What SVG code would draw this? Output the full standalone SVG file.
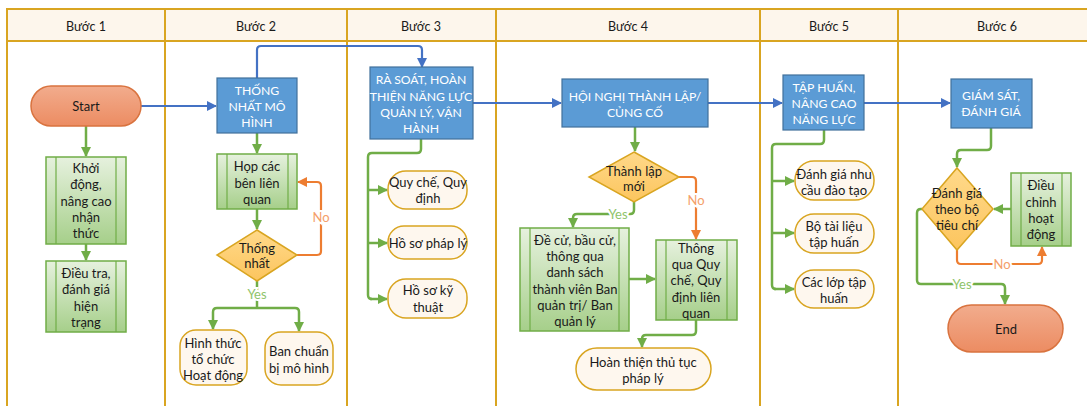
<svg xmlns="http://www.w3.org/2000/svg" width="1087" height="406" viewBox="0 0 1087 406">
<defs>
<linearGradient id="gProc" x1="0" y1="0" x2="0" y2="1"><stop offset="0" stop-color="#e6f1de"/><stop offset="1" stop-color="#a6cf8a"/></linearGradient>
<linearGradient id="gTerm" x1="0" y1="0" x2="0" y2="1"><stop offset="0" stop-color="#f2ac8d"/><stop offset="1" stop-color="#ec8c62"/></linearGradient>
<linearGradient id="gDia" x1="0" y1="0" x2="0" y2="1"><stop offset="0" stop-color="#ffd98a"/><stop offset="1" stop-color="#fcc55e"/></linearGradient>
<marker id="aG" viewBox="0 0 10 10" refX="9" refY="5" markerWidth="10" markerHeight="10" markerUnits="userSpaceOnUse" orient="auto"><path d="M0,0 L10,5 L0,10 z" fill="#70ad47"/></marker>
<marker id="aB" viewBox="0 0 10 10" refX="9" refY="5" markerWidth="10" markerHeight="10" markerUnits="userSpaceOnUse" orient="auto"><path d="M0,0 L10,5 L0,10 z" fill="#4472c4"/></marker>
<marker id="aO" viewBox="0 0 10 10" refX="9" refY="5" markerWidth="10" markerHeight="10" markerUnits="userSpaceOnUse" orient="auto"><path d="M0,0 L10,5 L0,10 z" fill="#ed7d31"/></marker>
</defs>
<style>
text{font-family:Lato,"Noto Sans","Liberation Sans",sans-serif;font-size:13px;fill:#1a1a1a;text-anchor:middle;dominant-baseline:central}
.hdr{font-size:12.5px}
.wt{fill:#ffffff;font-size:12.2px}
.lane{stroke:#d9a521;stroke-width:2;fill:none}
.head{fill:#fdf6ec;stroke:#d9a521;stroke-width:2}
.proc{fill:url(#gProc);stroke:#70ad47;stroke-width:1.5}
.pin{stroke:#70ad47;stroke-width:1.2}
.blue{fill:#5b9bd5;stroke:#41719c;stroke-width:1.2}
.term{fill:url(#gTerm);stroke:#d9733f;stroke-width:1.5}
.dia{fill:url(#gDia);stroke:#d9a521;stroke-width:1.5}
.doc{fill:#fef7ee;stroke:#d9a521;stroke-width:1.5}
.cg{fill:none;stroke:#70ad47;stroke-width:2.5;marker-end:url(#aG)}
.cgn{fill:none;stroke:#70ad47;stroke-width:2.5}
.cb{fill:none;stroke:#4472c4;stroke-width:2.2;marker-end:url(#aB)}
.co{fill:none;stroke:#ed7d31;stroke-width:2.2;marker-end:url(#aO)}
.lg{fill:#8fc46b;stroke:#fff;stroke-width:4;paint-order:stroke}
.lo{fill:#f4a06a;stroke:#fff;stroke-width:4;paint-order:stroke}
</style>

<g id="lanes">
<rect class="head" x="7" y="9" width="1090" height="32"/>
<line class="lane" x1="7" y1="9" x2="7" y2="410"/>
<line class="lane" x1="165" y1="9" x2="165" y2="410"/>
<line class="lane" x1="347" y1="9" x2="347" y2="410"/>
<line class="lane" x1="496" y1="9" x2="496" y2="410"/>
<line class="lane" x1="760" y1="9" x2="760" y2="410"/>
<line class="lane" x1="898" y1="9" x2="898" y2="410"/>
<text class="hdr" x="86" y="26">Bước 1</text>
<text class="hdr" x="256" y="26">Bước 2</text>
<text class="hdr" x="421" y="26">Bước 3</text>
<text class="hdr" x="628" y="26">Bước 4</text>
<text class="hdr" x="829" y="26">Bước 5</text>
<text class="hdr" x="997" y="26">Bước 6</text>
</g>

<g id="connectors">
<path class="cb" d="M141,106 H216"/>
<path class="cb" d="M257,78 V50 Q257,46 261,46 H418 Q422,46 422,50 V67"/>
<path class="cb" d="M473,103 H561"/>
<path class="cb" d="M708,103 H782"/>
<path class="cb" d="M864,103 H950"/>
<path class="cg" d="M86,126 V156"/>
<path class="cg" d="M86,244 V260"/>
<path class="cg" d="M257,133 V153"/>
<path class="cg" d="M257,209 V229"/>
<path class="co" d="M297,255 H317 Q321,255 321,251 V186 Q321,182 317,182 H298"/>
<path class="cgn" d="M257,281 V308"/>
<path class="cg" d="M257,308 H217 Q213,308 213,312 V329"/>
<path class="cg" d="M257,308 H295 Q299,308 299,312 V331"/>
<path class="cgn" d="M421,139 V149 Q421,153 417,153 H372 Q368,153 368,157 V295 Q368,299 372,299"/>
<path class="cg" d="M368,190 H387"/>
<path class="cg" d="M368,243 H387"/>
<path class="cg" d="M370,299 H387"/>
<path class="cg" d="M635,127 V151"/>
<path class="co" d="M679,177 H692 Q696,177 696,181 V239"/>
<path class="cg" d="M634,202 V210 Q634,214 630,214 H577 Q573,214 573,218 V227"/>
<path class="cg" d="M629,279 H655"/>
<path class="cg" d="M696,320 V331 Q696,335 692,335 H646 Q642,335 642,339 V347"/>
<path class="cgn" d="M824,130 V140 Q824,144 820,144 H776 Q772,144 772,148 V285 Q772,289 776,289"/>
<path class="cg" d="M772,181 H794"/>
<path class="cg" d="M772,233 H794"/>
<path class="cg" d="M774,289 H794"/>
<path class="cg" d="M991,128 V146 Q991,150 987,150 H961 Q957,150 957,154 V167"/>
<path class="cg" d="M1011,209 H994"/>
<path class="co" d="M957,250 V260 Q957,264 961,264 H1038 Q1042,264 1042,260 V247"/>
<path class="cg" d="M922,209 H921 Q917,209 917,213 V280 Q917,284 921,284 H1001 Q1005,284 1005,288 V304"/>
<text class="lo" x="321" y="217">No</text>
<text class="lg" x="257" y="294">Yes</text>
<text class="lo" x="696" y="200">No</text>
<text class="lg" x="618" y="214">Yes</text>
<text class="lo" x="1002" y="264">No</text>
<text class="lg" x="962" y="284">Yes</text>
</g>

<g id="start">
<rect class="term" x="31" y="86" width="110" height="40" rx="20"/>
<text x="86" y="106">Start</text>
</g>
<g id="khoi-dong">
<rect class="proc" x="46" y="157" width="80" height="87"/>
<line class="pin" x1="56" y1="157" x2="56" y2="244"/><line class="pin" x1="116" y1="157" x2="116" y2="244"/>
<text x="86" y="168">Khởi</text><text x="86" y="184">động,</text><text x="86" y="201">nâng cao</text><text x="86" y="217">nhận</text><text x="86" y="233">thức</text>
</g>
<g id="dieu-tra">
<rect class="proc" x="46" y="261" width="80" height="71"/>
<line class="pin" x1="56" y1="261" x2="56" y2="332"/><line class="pin" x1="116" y1="261" x2="116" y2="332"/>
<text x="86" y="273">Điều tra,</text><text x="86" y="289">đánh giá</text><text x="86" y="306">hiện</text><text x="86" y="322">trạng</text>
</g>

<g id="thong-nhat-mo-hinh">
<rect class="blue" x="217" y="78" width="80" height="55"/>
<text class="wt" x="257" y="90">THỐNG</text><text class="wt" x="257" y="106">NHẤT MÔ</text><text class="wt" x="257" y="122">HÌNH</text>
</g>
<g id="hop-cac-ben">
<rect class="proc" x="217" y="154" width="80" height="55"/>
<line class="pin" x1="227" y1="154" x2="227" y2="209"/><line class="pin" x1="288" y1="154" x2="288" y2="209"/>
<text x="257" y="166">Họp các</text><text x="257" y="183">bên liên</text><text x="257" y="199">quan</text>
</g>
<g id="thong-nhat">
<polygon class="dia" points="257,230 297,255 257,281 217,255"/>
<text x="257" y="248">Thống</text><text x="257" y="263">nhất</text>
</g>
<g id="hinh-thuc">
<rect class="doc" x="180" y="330" width="67" height="55" rx="16"/>
<text x="213" y="343">Hình thức</text><text x="213" y="359">tổ chức</text><text x="213" y="375">Hoạt động</text>
</g>
<g id="ban-chuan-bi">
<rect class="doc" x="265" y="332" width="68" height="53" rx="16"/>
<text x="299" y="351">Ban chuẩn</text><text x="299" y="368">bị mô hình</text>
</g>

<g id="ra-soat">
<rect class="blue" x="370" y="67" width="103" height="72"/>
<text class="wt" x="421" y="79">RÀ SOÁT, HOÀN</text><text class="wt" x="421" y="96">THIỆN NĂNG LỰC</text><text class="wt" x="421" y="112">QUẢN LÝ, VẬN</text><text class="wt" x="421" y="128">HÀNH</text>
</g>
<g id="quy-che">
<rect class="doc" x="388" y="171" width="79" height="38" rx="18"/>
<text x="428" y="182">Quy chế, Quy</text><text x="428" y="198">định</text>
</g>
<g id="ho-so-phap-ly">
<rect class="doc" x="388" y="226" width="79" height="33" rx="16"/>
<text x="428" y="243">Hồ sơ pháp lý</text>
</g>
<g id="ho-so-ky-thuat">
<rect class="doc" x="388" y="279" width="79" height="39" rx="18"/>
<text x="428" y="290">Hồ sơ kỹ</text><text x="428" y="307">thuật</text>
</g>

<g id="hoi-nghi">
<rect class="blue" x="562" y="79" width="146" height="48"/>
<text class="wt" x="635" y="96">HỘI NGHỊ THÀNH LẬP/</text><text class="wt" x="635" y="112">CỦNG CỐ</text>
</g>
<g id="thanh-lap-moi">
<polygon class="dia" points="634,152 679,177 634,202 589,177"/>
<text x="634" y="171">Thành lập</text><text x="634" y="186">mới</text>
</g>
<g id="de-cu">
<rect class="proc" x="520" y="228" width="109" height="103"/>
<line class="pin" x1="530" y1="228" x2="530" y2="331"/><line class="pin" x1="619" y1="228" x2="619" y2="331"/>
<text x="575" y="240">Đề cử, bầu cử,</text><text x="575" y="256">thông qua</text><text x="575" y="272">danh sách</text><text x="575" y="289">thành viên Ban</text><text x="575" y="305">quản trị/ Ban</text><text x="575" y="321">quản lý</text>
</g>
<g id="thong-qua">
<rect class="proc" x="656" y="240" width="81" height="80"/>
<line class="pin" x1="666" y1="240" x2="666" y2="320"/><line class="pin" x1="727" y1="240" x2="727" y2="320"/>
<text x="696" y="248">Thông</text><text x="696" y="264">qua Quy</text><text x="696" y="280">chế, Quy</text><text x="696" y="297">định liên</text><text x="696" y="313">quan</text>
</g>
<g id="hoan-thien">
<rect class="doc" x="576" y="348" width="135" height="42" rx="21"/>
<text x="643" y="362">Hoàn thiện thủ tục</text><text x="643" y="378">pháp lý</text>
</g>

<g id="tap-huan">
<rect class="blue" x="783" y="75" width="81" height="55"/>
<text class="wt" x="824" y="87">TẬP HUẤN,</text><text class="wt" x="824" y="103">NÂNG CAO</text><text class="wt" x="824" y="119">NĂNG LỰC</text>
</g>
<g id="danh-gia-nhu-cau">
<rect class="doc" x="795" y="161" width="79" height="39" rx="19"/>
<text x="834" y="174">Đánh giá nhu</text><text x="834" y="190">cầu đào tạo</text>
</g>
<g id="bo-tai-lieu">
<rect class="doc" x="795" y="214" width="79" height="39" rx="19"/>
<text x="834" y="226">Bộ tài liệu</text><text x="834" y="242">tập huấn</text>
</g>
<g id="cac-lop">
<rect class="doc" x="795" y="270" width="79" height="38" rx="19"/>
<text x="834" y="282">Các lớp tập</text><text x="834" y="298">huấn</text>
</g>

<g id="giam-sat">
<rect class="blue" x="951" y="79" width="81" height="49"/>
<text class="wt" x="991" y="95">GIÁM SÁT,</text><text class="wt" x="991" y="111">ĐÁNH GIÁ</text>
</g>
<g id="danh-gia-tieu-chi">
<polygon class="dia" points="957,168 993,209 957,250 922,209"/>
<text x="957" y="193">Đánh giá</text><text x="957" y="209">theo bộ</text><text x="957" y="225">tiêu chí</text>
</g>
<g id="dieu-chinh">
<rect class="proc" x="1011" y="173" width="60" height="73"/>
<line class="pin" x1="1021" y1="173" x2="1021" y2="246"/><line class="pin" x1="1062" y1="173" x2="1062" y2="246"/>
<text x="1041" y="185">Điều</text><text x="1041" y="202">chỉnh</text><text x="1041" y="218">hoạt</text><text x="1041" y="234">động</text>
</g>
<g id="end">
<rect class="term" x="948" y="305" width="115" height="47" rx="23.5"/>
<text x="1006" y="329">End</text>
</g>
</svg>
